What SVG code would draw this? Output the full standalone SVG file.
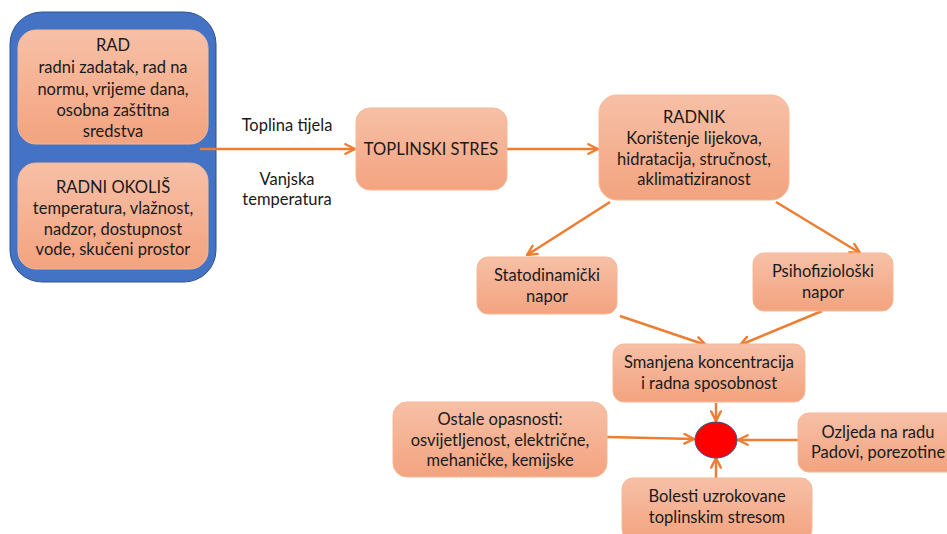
<svg xmlns="http://www.w3.org/2000/svg" width="947" height="534" viewBox="0 0 947 534">
<defs>
<linearGradient id="g" x1="0" y1="0" x2="0" y2="1">
<stop offset="0" stop-color="#F7C0A7"/>
<stop offset="1" stop-color="#F3A37F"/>
</linearGradient>
<marker id="ah" viewBox="0 0 10 10" refX="9" refY="5" markerWidth="12" markerHeight="12" markerUnits="userSpaceOnUse" orient="auto">
<path d="M1,1 L9,5 L1,9" fill="none" stroke="#ED7D31" stroke-width="2" stroke-linecap="round" stroke-linejoin="round"/>
</marker>
<style>
.box{fill:url(#g);stroke:#F6B894;stroke-width:1}
text{font-family:Lato,"Open Sans","Liberation Sans",sans-serif;font-size:16.5px;fill:#1a1a1a;text-anchor:middle}
.c{stroke:#ED7D31;stroke-width:2.5;fill:none;marker-end:url(#ah)}
</style>
</defs>
<rect width="947" height="534" fill="#ffffff"/>
<g id="container">
<rect x="10" y="12" width="206" height="270" rx="32" fill="#4472C4" stroke="#2F528F" stroke-width="1"/>
</g>
<g id="connectors">
<line class="c" x1="200" y1="149" x2="355" y2="149"/>
<line class="c" x1="507" y1="149" x2="598" y2="149"/>
<line class="c" x1="610" y1="202" x2="527" y2="255"/>
<line class="c" x1="776" y1="202" x2="860" y2="253"/>
<line class="c" x1="620" y1="316" x2="706" y2="345"/>
<line class="c" x1="822" y1="311" x2="740" y2="345"/>
<line class="c" x1="716" y1="403" x2="716" y2="421"/>
<line class="c" x1="607" y1="437" x2="694" y2="439"/>
<line class="c" x1="798" y1="440" x2="738" y2="440"/>
<line class="c" x1="716" y1="478" x2="716" y2="458"/>
</g>
<g id="rad">
<rect class="box" x="18" y="30" width="190" height="114" rx="18"/>
<text x="113" y="51">RAD</text>
<text x="113" y="73">radni zadatak, rad na</text>
<text x="113" y="95">normu, vrijeme dana,</text>
<text x="113" y="116">osobna zaštitna</text>
<text x="113" y="137">sredstva</text>
</g>
<g id="radni-okolis">
<rect class="box" x="18" y="163" width="190" height="106" rx="18"/>
<text x="113" y="193">RADNI OKOLIŠ</text>
<text x="113" y="214">temperatura, vlažnost,</text>
<text x="113" y="235">nadzor, dostupnost</text>
<text x="113" y="255">vode, skučeni prostor</text>
</g>
<g id="labels">
<text x="287" y="131">Toplina tijela</text>
<text x="287" y="185">Vanjska</text>
<text x="287" y="205">temperatura</text>
</g>
<g id="toplinski-stres">
<rect class="box" x="356" y="108" width="151" height="82" rx="14"/>
<text x="431" y="155">TOPLINSKI STRES</text>
</g>
<g id="radnik">
<rect class="box" x="599" y="95" width="190" height="105" rx="18"/>
<text x="694" y="123">RADNIK</text>
<text x="694" y="144">Korištenje lijekova,</text>
<text x="694" y="165">hidratacija, stručnost,</text>
<text x="694" y="185">aklimatiziranost</text>
</g>
<g id="statodinamicki">
<rect class="box" x="477" y="257" width="140" height="57" rx="11"/>
<text x="547" y="281">Statodinamički</text>
<text x="547" y="302">napor</text>
</g>
<g id="psihofizioloski">
<rect class="box" x="753" y="253" width="140" height="58" rx="11"/>
<text x="823" y="277">Psihofiziološki</text>
<text x="823" y="298">napor</text>
</g>
<g id="smanjena">
<rect class="box" x="613" y="344" width="192" height="58" rx="11"/>
<text x="709" y="368">Smanjena koncentracija</text>
<text x="709" y="389">i radna sposobnost</text>
</g>
<g id="centar">
<ellipse cx="716" cy="440" rx="21" ry="18" fill="#FF0000" stroke="#2F528F" stroke-width="1"/>
</g>
<g id="ostale">
<rect class="box" x="393" y="402" width="214" height="75" rx="14"/>
<text x="500" y="425">Ostale opasnosti:</text>
<text x="500" y="446">osvijetljenost, električne,</text>
<text x="500" y="466">mehaničke, kemijske</text>
</g>
<g id="ozljeda">
<rect class="box" x="798" y="413" width="162" height="59" rx="11"/>
<text x="878" y="438">Ozljeda na radu</text>
<text x="878" y="458">Padovi, porezotine</text>
</g>
<g id="bolesti">
<rect class="box" x="622" y="478" width="190" height="62" rx="11"/>
<text x="717" y="502">Bolesti uzrokovane</text>
<text x="717" y="523">toplinskim stresom</text>
</g>
</svg>
